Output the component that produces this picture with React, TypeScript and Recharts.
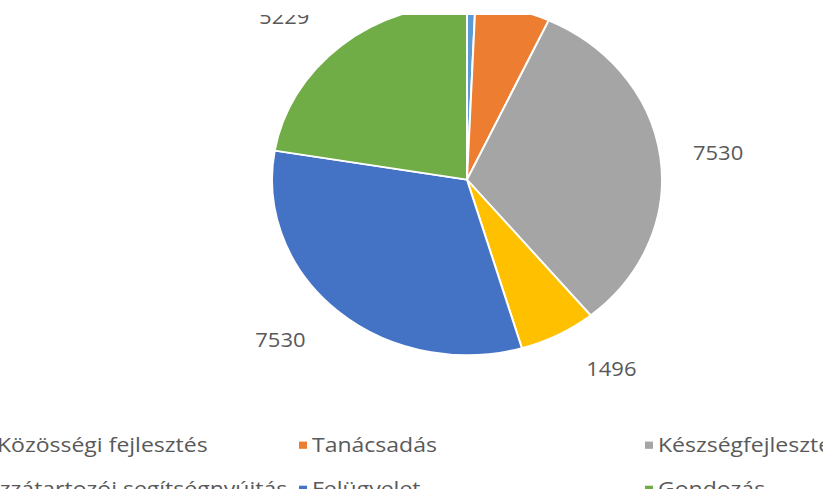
import React from 'react';
import { Cell, Legend, Pie, PieChart } from 'recharts';

const CATEGORIES = [
  'Közösségi fejlesztés',
  'Tanácsadás',
  'Készségfejlesztés',
  'Hozzátartozói segítségnyújtás',
  'Felügyelet',
  'Gondozás',
];
const VALUES = [160, 1450, 7530, 1496, 7530, 5229];
const COLORS = ['#5B9BD5', '#ED7D31', '#A5A5A5', '#FFC000', '#4472C4', '#70AD47'];

// left edge of each legend entry (marker), row by row
const LEGEND_X = [-16, 299, 645, -44, 299, 645];
const FONT = '"Open Sans", sans-serif';
const RAD = Math.PI / 180;

const data = CATEGORIES.map((name, i) => ({ name, value: VALUES[i] }));

// outside-end label: box sits just outside the rim along the mid angle
const renderLabel = (props: any) => {
  const { cx, cy, midAngle, outerRadius, value } = props;
  const dx = Math.cos(-midAngle * RAD);
  const dy = Math.sin(-midAngle * RAD);
  const gap = 30;
  const w = 52;
  const h = 24;
  const x = cx + (outerRadius + gap) * dx + Math.sign(dx) * (w / 2 + 15 * Math.abs(dy));
  const y = cy + (outerRadius + gap) * dy + (dy * h) / 2;
  return (
    <text x={x} y={y} textAnchor="middle" dominantBaseline="central" fill="#595959" fontSize={22} fontFamily={FONT}>
      {value}
    </text>
  );
};

const renderLegend = () => (
  <div style={{ position: 'relative', width: 823, height: 100 }}>
    {data.map((d, i) => (
      <div
        key={d.name}
        style={{
          position: 'absolute',
          left: LEGEND_X[i],
          top: Math.floor(i / 3) * 48.5,
          height: 48,
          display: 'flex',
          alignItems: 'center',
          whiteSpace: 'nowrap',
          fontFamily: FONT,
          fontSize: 23,
          color: '#595959',
        }}
      >
        <span style={{ display: 'inline-block', width: 8, height: 8, background: COLORS[i], marginRight: 5, marginTop: 4 }} />
        {d.name}
      </div>
    ))}
  </div>
);

export default function App() {
  return (
    <div style={{ position: 'fixed', left: 0, top: 0, width: 823, height: 489, background: '#fff', overflow: 'hidden' }}>
      <div style={{ position: 'absolute', left: 0, top: 15, width: 823, height: 474, overflow: 'hidden' }}>
        <div style={{ transform: 'scaleY(0.9)', transformOrigin: '0 0' }}>
          <PieChart width={823} height={527} margin={{ top: 0, right: 0, bottom: 0, left: 0 }}>
            <Pie
              data={data}
              dataKey="value"
              nameKey="name"
              cx={467}
              cy={183}
              outerRadius={195}
              startAngle={90}
              endAngle={-270}
              stroke="#fff"
              strokeWidth={2}
              label={renderLabel}
              labelLine={false}
              isAnimationActive={false}
            >
              {data.map((d, i) => (
                <Cell key={d.name} fill={COLORS[i]} />
              ))}
            </Pie>
            <Legend content={renderLegend} wrapperStyle={{ left: 0, top: 452, width: 823 }} />
          </PieChart>
        </div>
      </div>
    </div>
  );
}
